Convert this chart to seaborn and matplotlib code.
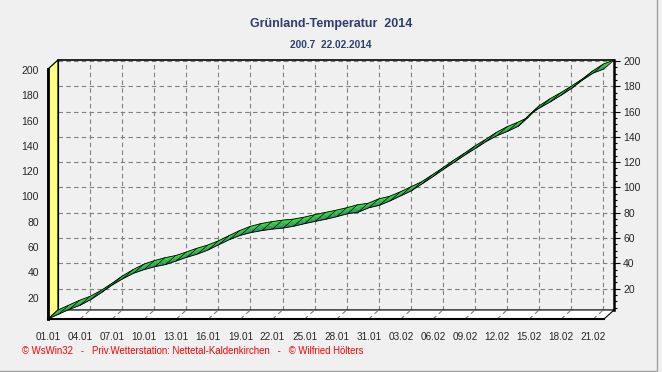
import numpy as np
import matplotlib
matplotlib.use("Agg")
import matplotlib.pyplot as plt
import seaborn as sns
from matplotlib.ticker import MultipleLocator, FixedLocator
from matplotlib.patches import Polygon
from matplotlib.collections import PolyCollection, LineCollection
from matplotlib.lines import Line2D

days = list(range(53))
values = [3.2, 7.0, 10.8, 14.0, 18.5, 24.0, 30.0, 35.0, 39.3, 42.2,
          44.5, 46.2, 49.0, 52.0, 54.5, 57.8, 62.0, 66.0, 69.3, 71.5,
          73.0, 74.2, 75.0, 76.5, 78.5, 80.3, 82.0, 84.0, 86.3, 87.5,
          91.0, 93.0, 96.5, 100.5, 104.5, 110.0, 115.6, 121.5, 127.0, 132.8,
          138.0, 143.5, 148.0, 151.5, 155.5, 164.5, 170.0, 174.8, 180.0, 185.5,
          192.0, 197.5, 200.7]
tick_days = list(range(0, 52, 3))
tick_labels = ["01.01", "04.01", "07.01", "10.01", "13.01", "16.01", "19.01",
               "22.01", "25.01", "28.01", "31.01", "03.02", "06.02", "09.02",
               "12.02", "15.02", "18.02", "21.02"]
y_ticks = [20, 40, 60, 80, 100, 120, 140, 160, 180, 200]
y_min, y_max = 3.2, 200.7

title = "Grünland-Temperatur  2014"
subtitle = "200.7  22.02.2014"
footer = "© WsWin32   -   Priv.Wetterstation: Nettetal-Kaldenkirchen   -   © Wilfried Hölters"

sns.set_style("white")
plt.rcParams['font.family'] = ['Liberation Sans', 'DejaVu Sans']

W, H = 662, 372
BG = '#F0F0F0'
fig = plt.figure(figsize=(W / 100, H / 100), dpi=100, facecolor=BG)


def box(l, t, r, b):
    return [l / W, 1 - b / H, (r - l) / W, (b - t) / H]


# hintere Ebene (Gitter + rechte Achse)
back = fig.add_axes(box(58, 60, 614, 310), zorder=0)
back.set_facecolor(BG)
back.set_xlim(0, 52)
back.set_ylim(y_min, y_max)
back.xaxis.set_major_locator(FixedLocator(tick_days[1:]))
back.tick_params(axis='x', length=0, labelbottom=False)
back.yaxis.tick_right()
back.yaxis.set_major_locator(FixedLocator(y_ticks))
back.yaxis.set_minor_locator(MultipleLocator(5))
back.tick_params(axis='y', which='major', direction='out', length=4, width=0.8,
                 labelsize=7.5, pad=2.5, color='black')
back.tick_params(axis='y', which='minor', direction='out', length=2.5, width=0.8,
                 color='black')
back.grid(True, which='major', color='#808080', linestyle=(0, (4, 3)), lw=0.8)
for side, lw in [('top', 1.2), ('right', 1.8), ('left', 0.8), ('bottom', 1.0)]:
    back.spines[side].set_visible(True)
    back.spines[side].set_color('black')
    back.spines[side].set_linewidth(lw)

# vordere Ebene (linke Achse + Datumsachse)
front = fig.add_axes(box(48, 69, 604, 319), zorder=2)
front.patch.set_alpha(0)
front.set_xlim(0, 52)
front.set_ylim(y_min, y_max)
front.xaxis.set_major_locator(FixedLocator(tick_days))
front.set_xticklabels(tick_labels)
front.xaxis.set_minor_locator(MultipleLocator(0.75))
front.yaxis.set_major_locator(FixedLocator(y_ticks))
front.yaxis.set_minor_locator(MultipleLocator(5))
front.tick_params(axis='both', which='major', direction='out', length=3.5, width=0.8,
                  labelsize=7.5, color='black')
front.tick_params(axis='both', which='minor', direction='out', length=2.5, width=0.8,
                  color='black')
front.tick_params(axis='x', labelsize=7.2, pad=5.5)
front.tick_params(axis='y', pad=3)
front.spines['top'].set_visible(False)
front.spines['right'].set_visible(False)
front.spines['left'].set_linewidth(2.0)
front.spines['bottom'].set_linewidth(1.5)
front.spines['left'].set_color('black')
front.spines['bottom'].set_color('black')

# Umrechnung hintere Ebene -> Datenkoordinaten der vorderen Ebene
to_front = back.transData + front.transData.inverted()
corners = to_front.transform([[0, y_min], [52, y_min], [0, y_max]])

floor = Polygon([[0, y_min], [52, y_min], corners[1], corners[0]], closed=True,
                facecolor='white', edgecolor='black', lw=0.8, zorder=1, clip_on=False)
wall = Polygon([[0, y_min], corners[0], corners[2], [0, y_max]], closed=True,
               facecolor='#FFFF80', edgecolor='black', lw=0.9, zorder=1, clip_on=False)
front.add_patch(floor)
front.add_patch(wall)

floor_grid = [[(d, y_min), tuple(to_front.transform([[d, y_min]])[0])] for d in tick_days[1:]]
front.add_collection(LineCollection(floor_grid, colors='#808080', lw=0.8,
                                    linestyles=[(0, (4, 3))], zorder=1.1, clip_on=False))

# Band (3D-Linie)
F = np.column_stack([days, values]).astype(float)
B = to_front.transform(F)
c_front = np.array([0.18, 0.36, 0.44])
c_back = np.array([0.15, 0.90, 0.18])
n_band = 6
polys, cols = [], []
for i in range(len(days) - 1):
    for k in range(n_band):
        t0, t1 = k / n_band, (k + 1) / n_band
        a0 = F[i] + t0 * (B[i] - F[i])
        a1 = F[i + 1] + t0 * (B[i + 1] - F[i + 1])
        b1 = F[i + 1] + t1 * (B[i + 1] - F[i + 1])
        b0 = F[i] + t1 * (B[i] - F[i])
        polys.append([a0, a1, b1, b0])
        cols.append(c_front + ((t0 + t1) / 2) ** 0.7 * (c_back - c_front))
front.add_collection(PolyCollection(polys, facecolors=cols, edgecolors=cols, lw=0.2,
                                    zorder=3, clip_on=False))
front.add_collection(LineCollection([[F[i], B[i]] for i in range(len(days))],
                                    colors='black', lw=0.45, zorder=3.2, clip_on=False))
sns.lineplot(x=F[:, 0], y=F[:, 1], ax=front, color='black', lw=0.6,
             sort=False, estimator=None)
sns.lineplot(x=B[:, 0], y=B[:, 1], ax=front, color='black', lw=0.6,
             sort=False, estimator=None)
for ln in front.lines:
    ln.set_clip_on(False)
    ln.set_zorder(3.3)
front.set_xlabel('')
front.set_ylabel('')
front.set_xlim(0, 52)
front.set_ylim(y_min, y_max)

# Texte
fig.text(331 / W, 1 - 23.5 / H, title, ha='center', va='center', fontsize=9,
         fontweight='bold', color='#2E3F6E')
fig.text(331 / W, 1 - 45.5 / H, subtitle, ha='center', va='center', fontsize=7.3,
         fontweight='bold', color='#2E3F6E')
fig.text(22 / W, 1 - 351 / H, footer, ha='left', va='center', fontsize=6.9, color='#FF0000')

# Rahmen
fig.add_artist(Line2D([656.5 / W, 656.5 / W], [1, 1 - 370.5 / H], color='#A0A0A0', lw=1))
fig.add_artist(Line2D([0, 656.5 / W], [1 - 370.5 / H, 1 - 370.5 / H], color='#A0A0A0', lw=1))

fig.savefig("out.png", dpi=100, facecolor=BG)
